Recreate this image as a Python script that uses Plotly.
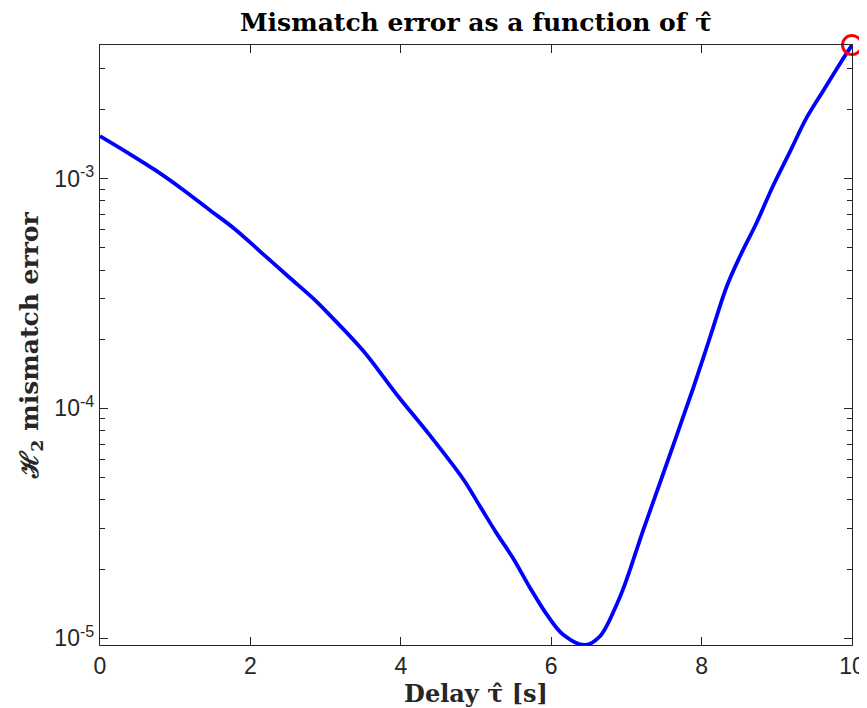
import numpy as np
import plotly.graph_objects as go

# delay tau-hat [s] and H2 mismatch error
tau = [0, 0.376, 0.731, 1.086, 1.44, 1.795, 2.15, 2.504, 2.859, 3.059, 3.5,
       3.945, 4.388, 4.831, 5.053, 5.275, 5.497, 5.718, 5.94, 6.161, 6.45,
       6.649, 6.87, 6.981, 7.225, 7.447, 7.669, 7.89, 8.112, 8.334, 8.511,
       8.733, 8.954, 9.176, 9.397, 9.618, 9.84, 10]
err = [1.53e-3, 1.29e-3, 1.09e-3, 9.03e-4, 7.37e-4, 6.02e-4, 4.75e-4, 3.75e-4,
       2.96e-4, 2.54e-4, 1.78e-4, 1.15e-4, 7.63e-5, 4.92e-5, 3.75e-5, 2.86e-5,
       2.22e-5, 1.66e-5, 1.27e-5, 1.035e-5, 9.35e-6, 1.02e-5, 1.40e-5, 1.72e-5,
       2.96e-5, 4.75e-5, 7.64e-5, 1.23e-4, 2.04e-4, 3.39e-4, 4.59e-4, 6.44e-4,
       9.35e-4, 1.31e-3, 1.84e-3, 2.41e-3, 3.16e-3, 3.81e-3]

# highlighted point
mark_tau = [10]
mark_err = [3.81e-3]

xticks = [0, 2, 4, 6, 8, 10]
yticks = [1e-5, 1e-4, 1e-3]
yticktext = ["10<sup>-5</sup>", "10<sup>-4</sup>", "10<sup>-3</sup>"]
yminor = [m * d for d in [1e-6, 1e-5, 1e-4, 1e-3] for m in range(2, 10)]

axcol = "#262626"
serif = "DejaVu Serif"
sans = "Liberation Sans, Arial, sans-serif"

fig = go.Figure()
fig.add_trace(go.Scatter(x=tau, y=err, mode="lines",
                         line=dict(color="#0000ff", width=3.8, shape="spline",
                                   smoothing=1.0),
                         showlegend=False))
fig.add_trace(go.Scatter(x=mark_tau, y=mark_err, mode="markers",
                         marker=dict(symbol="circle-open", size=19,
                                     line=dict(color="#ff0000", width=3),
                                     color="#ff0000"),
                         cliponaxis=False, showlegend=False))

# the page body adds an 8px margin, so the figure is 8px smaller on each side
fig.update_layout(
    width=859, height=700,
    margin=dict(l=92, r=15, t=37, b=63),
    paper_bgcolor="white", plot_bgcolor="white",
    title=dict(text="<b>Mismatch error as a function of τ̂</b>",
               x=0.5, xref="paper", xanchor="center",
               y=1 - 14 / 700, yanchor="middle",
               font=dict(family=serif, size=25, color="black")),
    xaxis=dict(range=[0, 10], tickvals=xticks, ticks="inside", ticklen=8,
               tickcolor=axcol, showline=True, linecolor=axcol, linewidth=1.3,
               mirror="ticks", showgrid=False, zeroline=False, automargin=False,
               tickfont=dict(family=sans, size=23, color=axcol),
               title=dict(text="<b>Delay τ̂ [s]</b>", standoff=6,
                          font=dict(family=serif, size=24, color=axcol))),
    yaxis=dict(type="log",
               range=[np.log10(min(err)), np.log10(max(err))],
               tickvals=yticks, ticktext=yticktext,
               ticks="inside", ticklen=8, tickcolor=axcol,
               minor=dict(tickvals=yminor, ticks="inside", ticklen=5,
                          tickcolor=axcol, showgrid=False),
               showline=True, linecolor=axcol, linewidth=1.3,
               mirror="ticks", showgrid=False, zeroline=False, automargin=False,
               tickfont=dict(family=sans, size=23, color=axcol),
               title=dict(text="<b>ℋ<sub>2</sub> mismatch error</b>", standoff=8,
                          font=dict(family=serif, size=25, color=axcol))),
)

fig.write_html("out.html")
